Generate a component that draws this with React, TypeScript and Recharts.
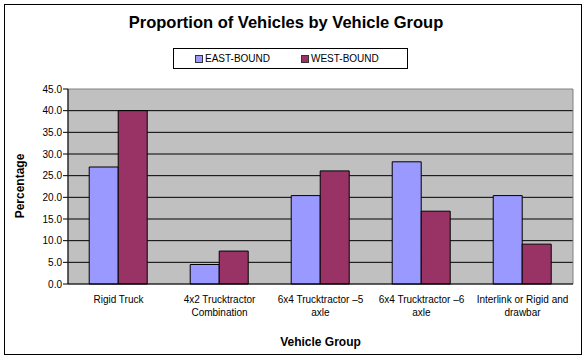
import { BarChart, Bar, XAxis, YAxis, CartesianGrid, Legend, ReferenceArea } from "recharts";

const categories = [
  "Rigid Truck",
  "4x2 Trucktractor\nCombination",
  "6x4 Trucktractor –5\naxle",
  "6x4 Trucktractor –6\naxle",
  "Interlink or Rigid and\ndrawbar",
];
const eastBound = [27.0, 4.5, 20.4, 28.2, 20.4];
const westBound = [40.0, 7.6, 26.1, 16.8, 9.2];
const yTicks = [0, 5, 10, 15, 20, 25, 30, 35, 40, 45];
const boundaryTicks = [0, 1, 2, 3, 4, 5];

const EAST_COLOR = "#9999FF";
const WEST_COLOR = "#993366";
const FONT = "Arial, 'Liberation Sans', sans-serif";

const data = categories.map((name, i) => ({
  name,
  east: eastBound[i],
  west: westBound[i],
}));

function CategoryTick(props: any) {
  const { x, y, payload } = props;
  const lines = String(payload.value).split("\n");
  return (
    <text x={x} y={y} textAnchor="middle" fontSize={10} fontFamily={FONT} fill="#000">
      {lines.map((l, i) => (
        <tspan key={i} x={x} dy={i === 0 ? 19 : 13}>{l}</tspan>
      ))}
    </text>
  );
}

function LegendBox() {
  const item = (color: string, label: string) => (
    <div style={{ display: "flex", alignItems: "center", width: 114 }}>
      <span style={{ width: 6, height: 6, background: color, border: "1px solid #333", marginRight: 2 }} />
      <span>{label}</span>
    </div>
  );
  return (
    <div
      style={{
        boxSizing: "border-box",
        width: 235,
        height: 21,
        border: "1px solid #000",
        background: "#fff",
        display: "flex",
        alignItems: "center",
        paddingLeft: 21,
        fontSize: 10,
        fontFamily: FONT,
        color: "#000",
      }}
    >
      {item(EAST_COLOR, "EAST-BOUND")}
      {item(WEST_COLOR, "WEST-BOUND")}
    </div>
  );
}

export default function App() {
  return (
    <div style={{ position: "absolute", left: 0, top: 0, width: 587, height: 361, background: "#fff", fontFamily: FONT }}>
      <div
        style={{
          position: "absolute",
          left: 4,
          top: 4,
          width: 578,
          height: 351,
          boxSizing: "border-box",
          border: "1px solid #000",
        }}
      />
      <div
        style={{
          position: "absolute",
          left: 0,
          width: 572,
          top: 13,
          textAlign: "center",
          fontSize: 16.5,
          fontWeight: "bold",
          color: "#000",
        }}
      >
        Proportion of Vehicles by Vehicle Group
      </div>
      <div
        style={{
          position: "absolute",
          left: 20,
          top: 186,
          transform: "translate(-50%, -50%) rotate(-90deg)",
          fontSize: 12,
          fontWeight: "bold",
          whiteSpace: "nowrap",
          color: "#000",
        }}
      >
        Percentage
      </div>
      <div
        style={{
          position: "absolute",
          left: 68,
          width: 505,
          top: 335,
          textAlign: "center",
          fontSize: 12,
          fontWeight: "bold",
          color: "#000",
        }}
      >
        Vehicle Group
      </div>
      <div style={{ position: "absolute", left: 0, top: 0 }}>
        <BarChart
          width={587}
          height={361}
          data={data}
          margin={{ top: 89, right: 14, bottom: 37, left: 8 }}
          barCategoryGap="21%"
          barGap={0}
        >
          <CartesianGrid
            vertical={false}
            stroke="#000"
            fill="#C0C0C0"
            fillOpacity={1}
            horizontalValues={[5, 10, 15, 20, 25, 30, 35, 40]}
          />
          <ReferenceArea y1={0} y2={45} fill="none" stroke="#808080" strokeWidth={1} ifOverflow="visible" />
          <XAxis
            xAxisId="bounds"
            type="number"
            domain={[0, 5]}
            ticks={boundaryTicks}
            height={0}
            tick={false}
            tickSize={5}
            tickLine={{ stroke: "#000" }}
            axisLine={false}
            allowDataOverflow
          />
          <XAxis
            dataKey="name"
            height={40}
            interval={0}
            tickLine={false}
            tickSize={0}
            tickMargin={0}
            axisLine={{ stroke: "#000" }}
            tick={<CategoryTick />}
          />
          <YAxis
            width={60}
            domain={[0, 45]}
            ticks={yTicks}
            tickFormatter={(v: number) => v.toFixed(1)}
            tick={{ fontSize: 10, fill: "#000", fontFamily: FONT }}
            tickSize={5}
            tickMargin={1}
            tickLine={{ stroke: "#000" }}
            axisLine={{ stroke: "#000" }}
            interval={0}
          />
          <Legend
            layout="horizontal"
            verticalAlign="middle"
            align="center"
            content={() => <LegendBox />}
            wrapperStyle={{ position: "absolute", left: 173, top: 48, width: 235, height: 21 }}
          />
          <Bar dataKey="east" name="EAST-BOUND" fill={EAST_COLOR} stroke="#000" strokeWidth={1} isAnimationActive={false} />
          <Bar dataKey="west" name="WEST-BOUND" fill={WEST_COLOR} stroke="#000" strokeWidth={1} isAnimationActive={false} />
        </BarChart>
      </div>
    </div>
  );
}
